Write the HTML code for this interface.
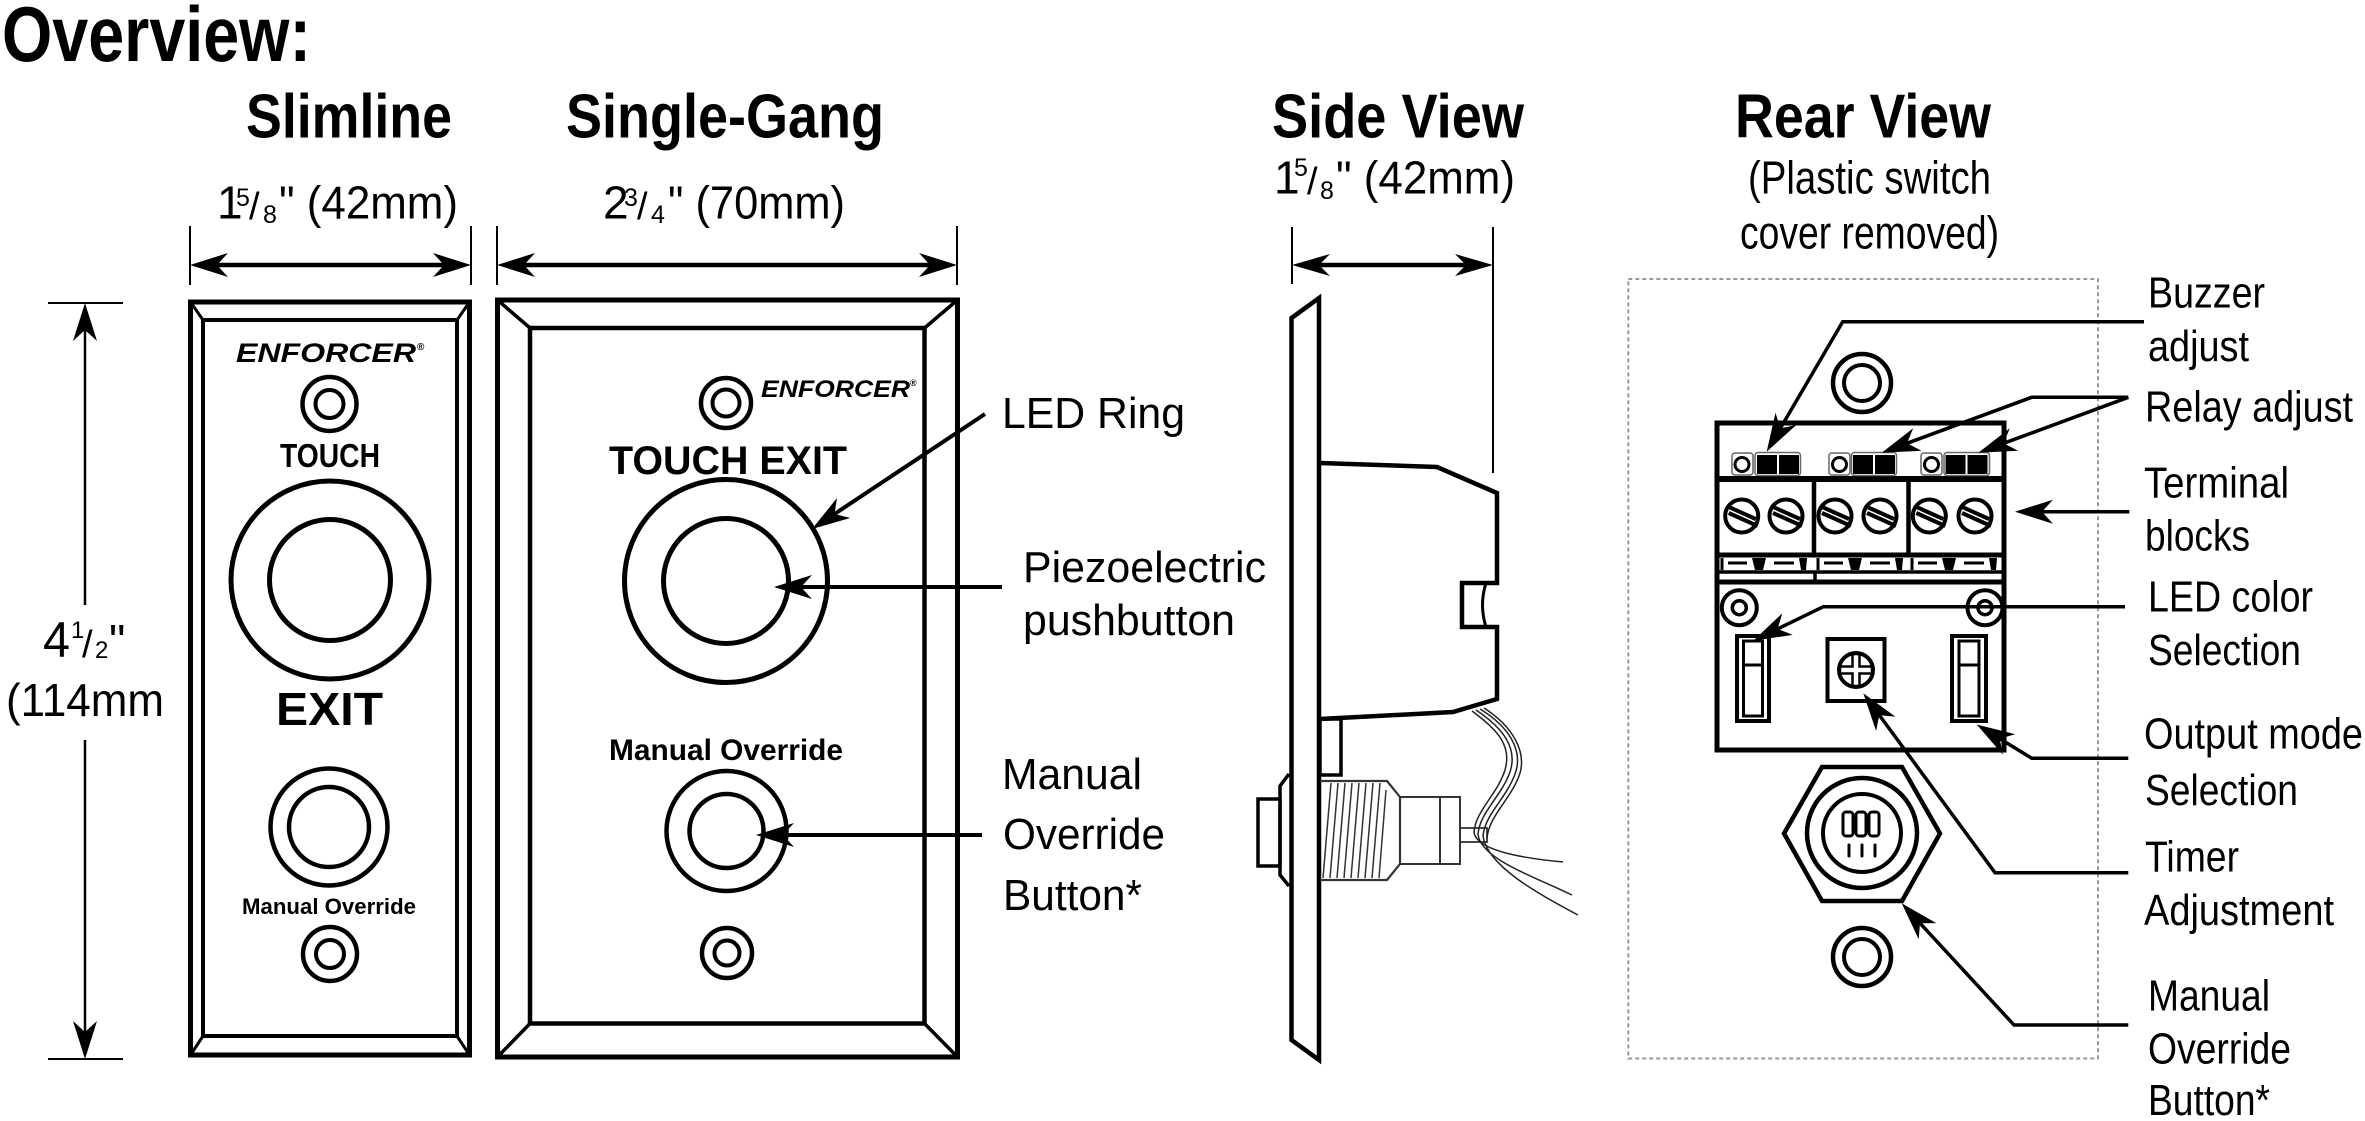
<!DOCTYPE html>
<html><head><meta charset="utf-8"><style>
html,body{margin:0;padding:0;background:#fff;}
svg{display:block;}
text{font-family:"Liberation Sans",Arial,sans-serif;fill:#000;}
.b{font-weight:bold;}
</style></head><body>
<svg width="2365" height="1121" viewBox="0 0 2365 1121" xmlns="http://www.w3.org/2000/svg">
<rect width="2365" height="1121" fill="#fff"/>

<!-- Titles -->
<text class="b" x="2" y="61" font-size="78" textLength="309" lengthAdjust="spacingAndGlyphs">Overview:</text>
<text class="b" x="246" y="137.5" font-size="62" textLength="206" lengthAdjust="spacingAndGlyphs">Slimline</text>
<text class="b" x="566" y="137.5" font-size="62" textLength="318" lengthAdjust="spacingAndGlyphs">Single-Gang</text>
<text class="b" x="1272" y="137.5" font-size="62" textLength="252" lengthAdjust="spacingAndGlyphs">Side View</text>
<text class="b" x="1735" y="137.5" font-size="62" textLength="256" lengthAdjust="spacingAndGlyphs">Rear View</text>
<text x="1748" y="193.3" font-size="46" textLength="243" lengthAdjust="spacingAndGlyphs">(Plastic switch</text>
<text x="1740" y="248.3" font-size="46" textLength="259" lengthAdjust="spacingAndGlyphs">cover removed)</text>

<!-- Dimension texts -->
<text x="217" y="218.6" font-size="46">1</text>
<text x="236" y="206" font-size="25">5</text>
<text x="249" y="219" font-size="38">/</text>
<text x="263" y="223" font-size="25">8</text>
<text x="279" y="218.6" font-size="46" textLength="179" lengthAdjust="spacingAndGlyphs">" (42mm)</text>

<text x="603" y="218.6" font-size="46">2</text>
<text x="624" y="206" font-size="25">3</text>
<text x="637" y="219" font-size="38">/</text>
<text x="651" y="223" font-size="25">4</text>
<text x="668" y="218.6" font-size="46" textLength="177" lengthAdjust="spacingAndGlyphs">" (70mm)</text>

<text x="1274" y="193.3" font-size="46">1</text>
<text x="1294" y="176" font-size="25">5</text>
<text x="1307" y="194" font-size="38">/</text>
<text x="1320" y="199" font-size="25">8</text>
<text x="1336" y="193.3" font-size="46" textLength="179" lengthAdjust="spacingAndGlyphs">" (42mm)</text>

<text x="43" y="657" font-size="50" textLength="27" lengthAdjust="spacingAndGlyphs">4</text>
<text x="71" y="638" font-size="24">1</text>
<text x="82" y="657" font-size="38">/</text>
<text x="95" y="658" font-size="24">2</text>
<text x="109" y="657" font-size="46">"</text>
<text x="6" y="716" font-size="46" textLength="158" lengthAdjust="spacingAndGlyphs">(114mm</text>

<!-- Dimension lines -->
<g stroke="#000" fill="none">
  <line x1="190" y1="226" x2="190" y2="285" stroke-width="2"/>
  <line x1="471" y1="226" x2="471" y2="285" stroke-width="2"/>
  <line x1="215" y1="265" x2="446" y2="265" stroke-width="4.5"/>
  <line x1="497" y1="226" x2="497" y2="285" stroke-width="2"/>
  <line x1="957" y1="226" x2="957" y2="285" stroke-width="2"/>
  <line x1="522" y1="265" x2="932" y2="265" stroke-width="4.5"/>
  <line x1="1292" y1="227" x2="1292" y2="284" stroke-width="2"/>
  <line x1="1493" y1="227" x2="1493" y2="473" stroke-width="2"/>
  <line x1="1317" y1="265" x2="1468" y2="265" stroke-width="4.5"/>
  <line x1="48" y1="303" x2="123" y2="303" stroke-width="2"/>
  <line x1="48" y1="1059" x2="123" y2="1059" stroke-width="2"/>
  <line x1="85" y1="328" x2="85" y2="605" stroke-width="2.5"/>
  <line x1="85" y1="740" x2="85" y2="1034" stroke-width="2.5"/>
</g>
<g fill="#000">
  <polygon points="190,265 228,253 217,265 228,277"/>
  <polygon points="471,265 433,253 444,265 433,277"/>
  <polygon points="497,265 535,253 524,265 535,277"/>
  <polygon points="957,265 919,253 930,265 919,277"/>
  <polygon points="1292,265 1330,254 1319,265 1330,276"/>
  <polygon points="1493,265 1455,254 1466,265 1455,276"/>
  <polygon points="85,303 73,341 85,330 97,341"/>
  <polygon points="85,1059 73,1021 85,1032 97,1021"/>
</g>

<!-- Slimline plate -->
<g stroke="#000" fill="none">
  <rect x="190.5" y="302" width="279" height="753" stroke-width="5"/>
  <rect x="203" y="320" width="254" height="716" stroke-width="4"/>
  <line x1="190.5" y1="302" x2="203" y2="320" stroke-width="3"/>
  <line x1="469.5" y1="302" x2="457" y2="320" stroke-width="3"/>
  <line x1="190.5" y1="1055" x2="203" y2="1036" stroke-width="3"/>
  <line x1="469.5" y1="1055" x2="457" y2="1036" stroke-width="3"/>
  <circle cx="329.5" cy="404" r="27" stroke-width="4.5"/>
  <circle cx="329.5" cy="404" r="14" stroke-width="4"/>
  <circle cx="330" cy="580" r="99" stroke-width="5"/>
  <circle cx="330" cy="580" r="60.5" stroke-width="5"/>
  <circle cx="329" cy="827" r="58.5" stroke-width="4.5"/>
  <circle cx="329" cy="827" r="40" stroke-width="4.5"/>
  <circle cx="330" cy="954" r="27" stroke-width="4.5"/>
  <circle cx="330" cy="954" r="14" stroke-width="4"/>
</g>
<text class="b" x="236" y="362" font-size="27" font-style="italic" textLength="180" lengthAdjust="spacingAndGlyphs">ENFORCER</text>
<text class="b" x="417" y="350" font-size="10">®</text>
<text class="b" x="280" y="467" font-size="33" textLength="100" lengthAdjust="spacingAndGlyphs">TOUCH</text>
<text class="b" x="276" y="725" font-size="46" textLength="107" lengthAdjust="spacingAndGlyphs">EXIT</text>
<text class="b" x="242" y="914" font-size="22" textLength="174" lengthAdjust="spacingAndGlyphs">Manual Override</text>

<!-- Single-gang plate -->
<g stroke="#000" fill="none">
  <rect x="497.5" y="300" width="460" height="757" stroke-width="5"/>
  <rect x="530" y="328" width="394.5" height="695.5" stroke-width="4.5"/>
  <line x1="497.5" y1="300" x2="530" y2="328" stroke-width="3.5"/>
  <line x1="957.5" y1="300" x2="924.5" y2="328" stroke-width="3.5"/>
  <line x1="497.5" y1="1057" x2="530" y2="1023.5" stroke-width="3.5"/>
  <line x1="957.5" y1="1057" x2="924.5" y2="1023.5" stroke-width="3.5"/>
  <circle cx="726" cy="403" r="25" stroke-width="4.5"/>
  <circle cx="726" cy="403" r="13.5" stroke-width="4"/>
  <circle cx="726" cy="581" r="101.5" stroke-width="5"/>
  <circle cx="726" cy="581" r="62.5" stroke-width="5"/>
  <circle cx="726.5" cy="831" r="60" stroke-width="4.5"/>
  <circle cx="726.5" cy="831" r="37" stroke-width="4.5"/>
  <circle cx="727" cy="953" r="25" stroke-width="4.5"/>
  <circle cx="727" cy="953" r="12.5" stroke-width="4"/>
</g>
<text class="b" x="761" y="397" font-size="24" font-style="italic" textLength="149" lengthAdjust="spacingAndGlyphs">ENFORCER</text>
<text class="b" x="910" y="386" font-size="9">®</text>
<text class="b" x="609" y="474" font-size="40" textLength="238" lengthAdjust="spacingAndGlyphs">TOUCH EXIT</text>
<text class="b" x="609" y="760" font-size="30" textLength="234" lengthAdjust="spacingAndGlyphs">Manual Override</text>

<!-- Middle labels and arrows -->
<g stroke="#000" stroke-width="4" fill="none">
  <line x1="985" y1="414" x2="834.5" y2="514"/>
  <line x1="1002" y1="587" x2="801" y2="587"/>
  <line x1="982" y1="835" x2="783" y2="835"/>
</g>
<g fill="#000">
  <polygon points="812,529 837,498 834.5,514 850.3,518"/>
  <polygon points="774,587 812,575 801,587 812,599"/>
  <polygon points="756,835 794,823 783,835 794,847"/>
</g>
<text x="1002" y="428" font-size="44" textLength="183" lengthAdjust="spacingAndGlyphs">LED Ring</text>
<text x="1023" y="582" font-size="44" textLength="243" lengthAdjust="spacingAndGlyphs">Piezoelectric</text>
<text x="1023" y="635" font-size="44" textLength="212" lengthAdjust="spacingAndGlyphs">pushbutton</text>
<text x="1002" y="789" font-size="44" textLength="140" lengthAdjust="spacingAndGlyphs">Manual</text>
<text x="1003" y="849" font-size="44" textLength="162" lengthAdjust="spacingAndGlyphs">Override</text>
<text x="1003" y="910" font-size="44" textLength="139" lengthAdjust="spacingAndGlyphs">Button*</text>

<!-- Side view -->
<g stroke="#000" fill="none" stroke-linejoin="miter">
  <polygon points="1291.5,318 1319,298 1319,1060 1291.5,1040" stroke-width="4.5" fill="#fff"/>
  <path d="M1320,463 L1437,467 L1497,493 L1497,583 L1462,583 L1462,627 L1497,627 L1497,699 L1453,712 L1320,719" stroke-width="4.5"/>
  <path d="M1486,583 Q1479,605 1486,627" stroke-width="3"/>
  <rect x="1320" y="719" width="21" height="56" stroke-width="3.5"/>
  <path d="M1289,774 L1280,786 L1280,875 L1289,886" stroke-width="3.5"/>
  <rect x="1258" y="799" width="22" height="67" stroke-width="3.5"/>
  <path d="M1320,781 L1387,781 L1400,797 L1400,864 L1387,880 L1320,880" stroke-width="2.2" stroke="#333"/>
  <rect x="1400" y="797" width="60" height="67" stroke-width="2" stroke="#333"/>
  <line x1="1440" y1="797" x2="1440" y2="864" stroke-width="2" stroke="#333"/>
  <rect x="1460" y="828" width="27" height="14" stroke-width="1.8" stroke="#333"/>
  <g stroke-width="1.5" stroke="#333">
    <line x1="1323" y1="878" x2="1331" y2="783"/>
    <line x1="1330" y1="878" x2="1338" y2="783"/>
    <line x1="1337" y1="878" x2="1345" y2="783"/>
    <line x1="1344" y1="878" x2="1352" y2="783"/>
    <line x1="1351" y1="878" x2="1359" y2="783"/>
    <line x1="1358" y1="878" x2="1366" y2="783"/>
    <line x1="1365" y1="878" x2="1373" y2="783"/>
    <line x1="1372" y1="878" x2="1380" y2="783"/>
    <line x1="1379" y1="878" x2="1386" y2="790"/>
  </g>
  <g stroke-width="1.5" stroke="#222">
    <path d="M1472,711 C1498,730 1512,746 1505,770 C1497,795 1476,810 1474,832 C1476,850 1520,858 1563,862"/>
    <path d="M1476,710 C1503,728 1518,748 1510,772 C1501,797 1480,812 1478,834 C1480,858 1530,875 1572,895"/>
    <path d="M1480,709 C1508,726 1524,750 1515,774 C1506,799 1485,814 1483,836 C1487,866 1540,895 1578,915"/>
    <path d="M1484,708 C1512,726 1528,752 1519,776 C1510,800 1489,816 1487,838"/>
  </g>
</g>

<!-- Rear view -->
<rect x="1628.3" y="279" width="469.7" height="779.5" fill="none" stroke="#999" stroke-width="2" stroke-dasharray="4 3"/>
<g stroke="#000" fill="none">
  <circle cx="1862" cy="383" r="29" stroke-width="4.5"/>
  <circle cx="1862" cy="383" r="18" stroke-width="4"/>
  <rect x="1717" y="423" width="287" height="327" stroke-width="5"/>
  <line x1="1717" y1="479" x2="2004" y2="479" stroke-width="6"/>
  <line x1="1814" y1="479" x2="1814" y2="555" stroke-width="4.5"/>
  <line x1="1908.5" y1="479" x2="1908.5" y2="555" stroke-width="4.5"/>
  <line x1="1717" y1="555" x2="2004" y2="555" stroke-width="5"/>
  <line x1="1717" y1="572" x2="2004" y2="572" stroke-width="3.5"/>
  <line x1="1717" y1="582" x2="2004" y2="582" stroke-width="5"/>
  <line x1="1815" y1="572" x2="1815" y2="582" stroke-width="3.5"/>
</g>
<!-- adjust components -->
<g>
  <g stroke="#666" stroke-width="1.5" fill="#fff">
    <rect x="1732" y="453" width="21" height="22" rx="3"/>
    <rect x="1829" y="453" width="21" height="22" rx="3"/>
    <rect x="1921" y="453" width="21" height="22" rx="3"/>
    <rect x="1755" y="452.5" width="45.5" height="23" rx="3"/>
    <rect x="1851.5" y="452.5" width="45" height="23" rx="3"/>
    <rect x="1944" y="452.5" width="45.5" height="23" rx="3"/>
  </g>
  <g fill="none" stroke="#000" stroke-width="3">
    <circle cx="1742" cy="464.5" r="7"/>
    <circle cx="1839.5" cy="464.5" r="7"/>
    <circle cx="1931.5" cy="464.5" r="7"/>
  </g>
  <g fill="#000">
    <rect x="1757" y="455" width="20" height="19"/>
    <rect x="1779" y="455" width="20" height="19"/>
    <rect x="1853" y="455" width="20" height="19"/>
    <rect x="1875" y="455" width="20" height="19"/>
    <rect x="1945.5" y="455" width="20" height="19"/>
    <rect x="1967.5" y="455" width="20" height="19"/>
  </g>
</g>
<!-- screws -->
<defs>
  <g id="screw">
    <circle cx="0" cy="0" r="16.5" fill="#fff" stroke="#000" stroke-width="4"/>
    <line x1="-15" y1="-10" x2="14" y2="3" stroke="#000" stroke-width="4"/>
    <line x1="-13" y1="-3" x2="16" y2="10" stroke="#000" stroke-width="4"/>
  </g>
  <g id="strip">
    <line x1="3" y1="558" x2="3" y2="570" stroke="#000" stroke-width="3"/>
    <line x1="9" y1="563" x2="28" y2="563" stroke="#000" stroke-width="3"/>
    <polygon points="33,558 47,558 44,570 36,570" fill="#000"/>
    <line x1="55" y1="563" x2="75" y2="563" stroke="#000" stroke-width="3"/>
    <polygon points="80,558 88,558 87,570 82,570" fill="#000"/>
  </g>
</defs>
<use href="#screw" x="1741.7" y="516"/>
<use href="#screw" x="1786" y="516"/>
<use href="#screw" x="1835" y="516"/>
<use href="#screw" x="1880" y="516"/>
<use href="#screw" x="1929.3" y="516"/>
<use href="#screw" x="1975" y="516"/>
<use href="#strip" x="1719" y="0"/>
<use href="#strip" x="1815" y="0"/>
<use href="#strip" x="1909" y="0"/>
<!-- lower section -->
<g stroke="#000" fill="none">
  <circle cx="1739.3" cy="607.7" r="17.5" stroke-width="4"/>
  <circle cx="1739.3" cy="607.7" r="7" stroke-width="3.5"/>
  <circle cx="1985" cy="607.7" r="17.5" stroke-width="4"/>
  <circle cx="1985" cy="607.7" r="7" stroke-width="3.5"/>
  <rect x="1737" y="636" width="32" height="85" stroke-width="4"/>
  <rect x="1743.5" y="641" width="19" height="75" stroke-width="3"/>
  <line x1="1743.5" y1="665" x2="1762.5" y2="665" stroke-width="3"/>
  <rect x="1952" y="636" width="34" height="85" stroke-width="4"/>
  <rect x="1959" y="641" width="20" height="75" stroke-width="3"/>
  <line x1="1959" y1="665" x2="1979" y2="665" stroke-width="3"/>
  <rect x="1827.5" y="639" width="57" height="62" stroke-width="4"/>
  <circle cx="1856" cy="670" r="17" stroke-width="4"/>
  <polygon points="1852.5,654 1859.5,654 1859.5,666.5 1872,666.5 1872,673.5 1859.5,673.5 1859.5,686 1852.5,686 1852.5,673.5 1840,673.5 1840,666.5 1852.5,666.5" stroke-width="2.5"/>
  <polygon points="1822,767 1902,767 1940,833.5 1902,901 1822,901 1784,833.5" stroke-width="4.5"/>
  <circle cx="1862" cy="833" r="55" stroke-width="4.5"/>
  <circle cx="1862" cy="833" r="39" stroke-width="4"/>
  <rect x="1843" y="812" width="10" height="24" rx="3" stroke-width="3"/>
  <rect x="1856" y="812" width="10" height="24" rx="3" stroke-width="3"/>
  <rect x="1869" y="812" width="10" height="24" rx="3" stroke-width="3"/>
  <g stroke-width="3" stroke-linecap="round">
    <line x1="1849" y1="845" x2="1849" y2="856"/>
    <line x1="1862" y1="845" x2="1862" y2="856"/>
    <line x1="1875" y1="845" x2="1875" y2="856"/>
  </g>
  <circle cx="1862" cy="957" r="29" stroke-width="4.5"/>
  <circle cx="1862" cy="957" r="18" stroke-width="4"/>
</g>

<!-- Rear view arrows -->
<g stroke="#000" stroke-width="3.5" fill="none" stroke-linejoin="miter">
  <polyline points="2144,321.7 1842.7,321.7 1780.3,428.4"/>
  <polyline points="2128.3,397.3 2031.7,397.3 1907,443.3"/>
  <line x1="2128.3" y1="397.3" x2="2003.6" y2="443.3"/>
  <line x1="2129.3" y1="511.7" x2="2042" y2="511.7"/>
  <polyline points="2125,606.7 1823.3,606.7 1777.6,628.9"/>
  <polyline points="2128.3,758.3 2031.7,758.3 1999.7,738.6"/>
  <polyline points="2128.3,872.7 1995,872.7 1879.3,715.1"/>
  <polyline points="2128.3,1025 2014,1025 1920,923.2"/>
</g>
<g fill="#000">
  <polygon points="1766.7,451.7 1775.5,412.8 1780.3,428.4 1796.3,425"/>
  <polygon points="1881.7,452.7 1913.2,428.3 1907,443.3 1921.5,450.8"/>
  <polygon points="1978.3,452.7 2009.8,428.3 2003.6,443.3 2018.1,450.8"/>
  <polygon points="2015,511.7 2053,499.7 2042,511.7 2053,523.7"/>
  <polygon points="1753.3,640.7 1782.3,613.3 1777.6,628.9 1792.7,634.9"/>
  <polygon points="1976.7,724.5 2015.4,734.2 1999.7,738.6 2002.8,754.6"/>
  <polygon points="1863.3,693.3 1895.5,716.8 1879.3,715.1 1876.1,731"/>
  <polygon points="1901.7,903.3 1936.3,923.1 1920,923.2 1918.7,939.3"/>
</g>

<!-- Right labels -->
<g font-size="44">
<text x="2148" y="307.3" textLength="117" lengthAdjust="spacingAndGlyphs">Buzzer</text>
<text x="2148" y="361" textLength="101" lengthAdjust="spacingAndGlyphs">adjust</text>
<text x="2145" y="421.7" textLength="208" lengthAdjust="spacingAndGlyphs">Relay adjust</text>
<text x="2144" y="497.3" textLength="145" lengthAdjust="spacingAndGlyphs">Terminal</text>
<text x="2145" y="550.7" textLength="105" lengthAdjust="spacingAndGlyphs">blocks</text>
<text x="2148" y="611.7" textLength="165" lengthAdjust="spacingAndGlyphs">LED color</text>
<text x="2148" y="665" textLength="153" lengthAdjust="spacingAndGlyphs">Selection</text>
<text x="2144" y="748.3" textLength="219" lengthAdjust="spacingAndGlyphs">Output mode</text>
<text x="2145" y="805" textLength="153" lengthAdjust="spacingAndGlyphs">Selection</text>
<text x="2145" y="871.7" textLength="94" lengthAdjust="spacingAndGlyphs">Timer</text>
<text x="2144" y="925" textLength="190" lengthAdjust="spacingAndGlyphs">Adjustment</text>
<text x="2148" y="1010.7" textLength="122" lengthAdjust="spacingAndGlyphs">Manual</text>
<text x="2148" y="1063.3" textLength="143" lengthAdjust="spacingAndGlyphs">Override</text>
<text x="2148" y="1115" textLength="122" lengthAdjust="spacingAndGlyphs">Button*</text>
</g>
</svg>
</body></html>
